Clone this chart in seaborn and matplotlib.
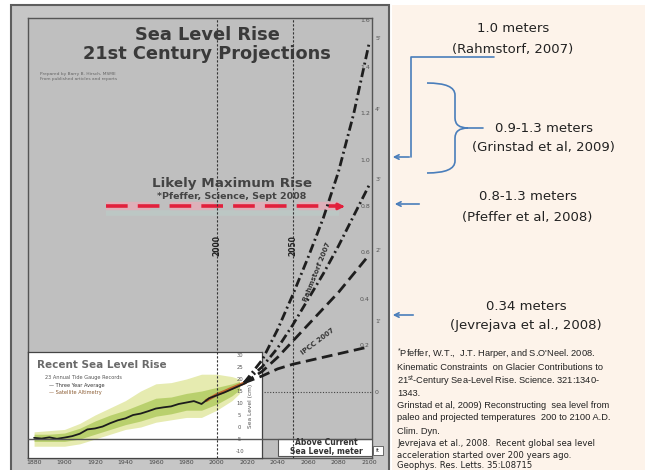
import matplotlib
matplotlib.use("Agg")
import matplotlib.pyplot as plt
import seaborn as sns
from matplotlib.patches import Rectangle, PathPatch
from matplotlib.path import Path

# --- values ---
# 21st century projections, metres above current sea level
proj_years = [2018, 2030, 2040, 2050, 2060, 2070, 2080, 2090, 2100]
rahmstorf_high = [0.04, 0.14, 0.27, 0.42, 0.58, 0.75, 0.95, 1.20, 1.50]
rahmstorf_low = [0.04, 0.11, 0.19, 0.29, 0.40, 0.51, 0.63, 0.76, 0.89]
ipcc_high = [0.04, 0.09, 0.15, 0.22, 0.29, 0.36, 0.43, 0.51, 0.59]
ipcc_low = [0.04, 0.07, 0.10, 0.12, 0.135, 0.15, 0.165, 0.18, 0.195]
likely_max = 0.8  # Pfeffer, Science 2008
likely_span = [1927, 2080]

# inset: recent sea level rise, cm
gauge_years = [1880, 1885, 1890, 1895, 1900, 1905, 1910, 1915, 1920, 1925,
               1930, 1935, 1940, 1945, 1950, 1955, 1960, 1965, 1970, 1975,
               1980, 1985, 1990, 1995, 2000, 2005, 2010, 2015, 2019]
gauge_avg = [-4.5, -4.8, -4.3, -4.9, -4.4, -3.8, -2.8, -1.0, -0.6, 0.2,
             1.6, 2.8, 3.6, 5.0, 5.6, 6.6, 7.7, 8.2, 8.6, 9.6,
             10.2, 10.8, 9.6, 12.0, 13.2, 14.4, 15.8, 17.2, 18.3]
sat_years = [1993, 2000, 2005, 2010, 2015, 2019]
sat_level = [11.0, 13.5, 14.8, 16.2, 17.5, 18.6]
band_years = [1880, 1890, 1900, 1910, 1920, 1930, 1940, 1950, 1960, 1970,
              1980, 1990, 2000, 2010, 2015]
outer_hi = [-2, -1.5, -1, 1.5, 5, 8, 11, 15, 18, 18.5, 20, 22, 22, 21, 20]
outer_lo = [-8, -8, -8, -7, -5, -3, -1, 0, 2, 3, 4, 4, 7, 11, 14]
inner_hi = [-3, -3, -2.5, -0.5, 2.5, 5, 7, 9.5, 12, 12.5, 14, 15, 16.5, 18, 19]
inner_lo = [-6, -6, -6, -5, -3, -1, 1, 2.5, 4.5, 5.5, 7, 7, 9.5, 13, 15.5]

year_ticks = [1880, 1900, 1920, 1940, 1960, 1980, 2000, 2020, 2040, 2060, 2080, 2100]
metre_ticks = [0.2, 0.4, 0.6, 0.8, 1.0, 1.2, 1.4, 1.6]
foot_ticks = [0, 1, 2, 3, 4, 5]
inset_ticks = [-10, -5, 0, 5, 10, 15, 20, 25, 30]

sns.set_theme(style="white")
plt.rcParams["font.family"] = ["DejaVu Sans"]
plt.rcParams["mathtext.fontset"] = "custom"
plt.rcParams["mathtext.rm"] = "Liberation Sans"

W, H = 645, 470
fig = plt.figure(figsize=(6.45, 4.7), dpi=100)


def rect(x0, y0, x1, y1):
    return [x0 / W, 1 - y1 / H, (x1 - x0) / W, (y1 - y0) / H]


# background slide (pixel coordinates)
bg = fig.add_axes([0, 0, 1, 1])
bg.set_xlim(0, W)
bg.set_ylim(H, 0)
bg.axis("off")
bg.add_patch(Rectangle((11, 5), 378, 470, facecolor="#c6c6c6", edgecolor="#5e5e5e", lw=1.5))
bg.add_patch(Rectangle((392, 5), 253, 470, facecolor="#fdf3ea", edgecolor="none"))

# main chart
XMIN, XMAX = 1876, 2102
ax = fig.add_axes(rect(28, 18, 372, 458))
ax.set_facecolor("#bfbfbf")
ax.set_xlim(XMIN, XMAX)
ax.set_ylim(-0.284, 1.612)
ax.set_xticks(year_ticks)
ax.set_xticklabels([str(y) for y in year_ticks], fontsize=4.5, color="#444")
ax.set_yticks([])
ax.tick_params(axis="x", length=0, pad=1.5)
for sp in ax.spines.values():
    sp.set_color("#555")
    sp.set_linewidth(1)
ax.axhline(0, color="#444", lw=0.8, ls=(0, (1, 1.5)))

# likely maximum rise arrow
ax.plot(likely_span, [likely_max - 0.03] * 2, color="#b9d6cf", lw=4, alpha=0.35, solid_capstyle="butt")
ax.plot(likely_span, [likely_max] * 2, color="#f3a7b5", lw=6, alpha=0.6, ls=(0, (5.3, 2.4)))
sns.lineplot(x=likely_span, y=[likely_max] * 2, ax=ax, color="#e2203c", lw=2.6,
             linestyle=(0, (6.0, 2.8)), legend=False)
ax.annotate("", xy=(likely_span[1] + 6, likely_max), xytext=(likely_span[1] - 1, likely_max),
            arrowprops=dict(arrowstyle="-|>", color="#e2203c", lw=2, mutation_scale=9))
ax.text(2010, 0.90, "Likely Maximum Rise", ha="center", va="center", fontsize=9.7,
        fontweight="bold", color="#444")
ax.text(2010, 0.843, "*Pfeffer, Science, Sept 2008", ha="center", va="center", fontsize=6.8,
        fontweight="bold", color="#444")

# inset
ins = fig.add_axes(rect(28, 352, 262, 458))
ins.set_facecolor("white")
ins.set_xlim(XMIN, XMIN + 234 / (344 / (XMAX - XMIN)))
ins.set_ylim(-12.9, 31.25)
ins.set_xticks([])
ins.set_yticks([])
for sp in ins.spines.values():
    sp.set_color("#444")
    sp.set_linewidth(0.9)
ins.fill_between(band_years, outer_lo, outer_hi, color="#e6ebb0", lw=0)
ins.fill_between(band_years, inner_lo, inner_hi, color="#b2cc62", alpha=0.85, lw=0)
sns.lineplot(x=sat_years, y=sat_level, ax=ins, color="#c0642c", lw=2.2, legend=False)
sns.lineplot(x=gauge_years, y=gauge_avg, ax=ins, color="#1c1c1c", lw=1.3, legend=False)
for v in inset_ticks:
    ins.text(2015, v, str(v), ha="center", va="center", fontsize=3.8, color="#555")
ins.text(2022, 9, "Sea Level (cm)", rotation=90, ha="center", va="center", fontsize=4.2, color="#555")
ins.text(1882, 25.8, "Recent Sea Level Rise", ha="left", va="center", fontsize=7.5,
         fontweight="bold", color="#6a6a6a")
ins.text(1887, 20.8, "23 Annual Tide Gauge Records", ha="left", va="center", fontsize=3.6, color="#555")
ins.text(1890, 17.3, "\u2014 Three Year Average", ha="left", va="center", fontsize=3.6, color="#333")
ins.text(1890, 14.3, "\u2014 Satellite Altimetry", ha="left", va="center", fontsize=3.6, color="#8a5a30")

# overlay with the same scales for lines crossing the inset
top = fig.add_axes(rect(28, 18, 372, 458))
top.set_xlim(XMIN, XMAX)
top.set_ylim(-0.284, 1.612)
top.patch.set_alpha(0)
top.axis("off")
for yr in (2000, 2050):
    top.axvline(yr, color="#333", lw=0.8, ls=(0, (2, 1.6)))
    top.text(yr, 0.63, str(yr), rotation=90, ha="center", va="center", fontsize=5.5,
             fontweight="bold", color="#222")
top.axhline(-0.2, color="#555", lw=1)

dashdot = (0, (3.3, 1.3, 0.7, 1.3))
dashed = (0, (3.9, 2.0))
for vals, ls in [(rahmstorf_high, dashdot), (rahmstorf_low, dashdot),
                 (ipcc_high, dashed), (ipcc_low, dashed)]:
    sns.lineplot(x=proj_years, y=vals, ax=top, color="#1e1e1e", lw=2.0, linestyle=ls, legend=False)
top.text(2066, 0.52, "Rahmstorf 2007", rotation=68, ha="center", va="center", fontsize=5,
         fontweight="bold", color="#333")
top.text(2066, 0.22, "IPCC 2007", rotation=37, ha="center", va="center", fontsize=5,
         fontweight="bold", color="#333")

yax = top.get_yaxis_transform()
for m in metre_ticks:
    top.text(0.994, m, f"{m:.1f}", transform=yax, ha="right", va="center", fontsize=4.5,
             color="#555", clip_on=False)
for ft in foot_ticks:
    top.text(1.009, ft * 0.3048, "0" if ft == 0 else f"{ft}'", transform=yax, ha="left",
             va="center", fontsize=4.5, color="#555", clip_on=False)

top.add_patch(Rectangle((2040.3, -0.276), 61.7, 0.076, facecolor="white", edgecolor="#555", lw=0.8))
top.text(2072, -0.219, "Above Current", ha="center", va="center", fontsize=5.5, fontweight="bold", color="#333")
top.text(2072, -0.257, "Sea Level, meter", ha="center", va="center", fontsize=5.5, fontweight="bold", color="#333")

# slide text (pixel coordinates)
ov = fig.add_axes([0, 0, 1, 1])
ov.set_xlim(0, W)
ov.set_ylim(H, 0)
ov.axis("off")
ov.add_patch(Rectangle((373, 446), 10, 9, facecolor="white", edgecolor="#555", lw=0.6))
ov.text(378, 451, "ft", ha="center", va="center", fontsize=4, color="#333")

ov.text(207, 35, "Sea Level Rise", ha="center", va="center", fontsize=12.8, fontweight="bold", color="#3a3a3a")
ov.text(207, 54, "21st Century Projections", ha="center", va="center", fontsize=12.8, fontweight="bold", color="#3a3a3a")
ov.text(40, 74, "Prepared by Barry B. Hirsch, MSME", ha="left", va="center", fontsize=3.2, color="#666")
ov.text(40, 79, "From published articles and reports", ha="left", va="center", fontsize=3.2, color="#666")

panel_font = dict(fontsize=9.5, color="#222", ha="center", va="center")
ov.text(513, 29, "1.0 meters", **panel_font)
ov.text(513, 49, "(Rahmstorf, 2007)", **panel_font)
ov.text(544, 128, "0.9-1.3 meters", **panel_font)
ov.text(543, 147, "(Grinstad et al, 2009)", **panel_font)
ov.text(528, 197, "0.8-1.3 meters", **panel_font)
ov.text(527, 217, "(Pfeffer et al, 2008)", **panel_font)
ov.text(526, 307, "0.34 meters", **panel_font)
ov.text(526, 326, "(Jevrejava et al., 2008)", **panel_font)

refs = [
    (354, r"$^{*}$Pfeffer, W.T.,  J.T. Harper, and S.O'Neel. 2008.", "Liberation Sans"),
    (368, "Kinematic Constraints  on Glacier Contributions to", "Liberation Sans"),
    (381, r"21$^{\rm st}$-Century Sea-Level Rise. Science. 321:1340-", "Liberation Sans"),
    (393, "1343.", "Liberation Sans"),
    (406, "Grinstad et al, 2009) Reconstructing  sea level from", "Liberation Sans"),
    (418, "paleo and projected temperatures  200 to 2100 A.D.", "Liberation Sans"),
    (431, "Clim. Dyn.", "Liberation Sans"),
    (443, "Jevrejava et al., 2008.  Recent global sea level", "DejaVu Sans"),
    (455, "acceleration started over 200 years ago.", "DejaVu Sans"),
    (465, "Geophys. Res. Letts. 35:L08715", "DejaVu Sans"),
]
for y, line, fam in refs:
    ov.text(397, y, line, ha="left", va="center", fontsize=6.7 if fam == "Liberation Sans" else 6.1,
            family=fam, color="#222")

blue = "#4a7ebb"
ov.plot([494, 411, 411], [57, 57, 157], color=blue, lw=1.2)
arrow = dict(arrowstyle="->", color=blue, lw=1.2, mutation_scale=8)
ov.annotate("", xy=(390, 157), xytext=(412, 157), arrowprops=arrow)
ov.annotate("", xy=(392, 204), xytext=(422, 204), arrowprops=arrow)
ov.annotate("", xy=(390, 315), xytext=(416, 315), arrowprops=arrow)
brace = Path(
    [(427, 83), (455, 83), (455, 95), (455, 118), (455, 128), (468, 128),
     (455, 128), (455, 138), (455, 161), (455, 173), (427, 173)],
    [Path.MOVETO, Path.CURVE3, Path.CURVE3, Path.LINETO, Path.CURVE3, Path.CURVE3,
     Path.CURVE3, Path.CURVE3, Path.LINETO, Path.CURVE3, Path.CURVE3],
)
ov.add_patch(PathPatch(brace, facecolor="none", edgecolor=blue, lw=1.2))
ov.plot([468, 483], [128, 128], color=blue, lw=1.2)

fig.savefig("out.png", dpi=100)
